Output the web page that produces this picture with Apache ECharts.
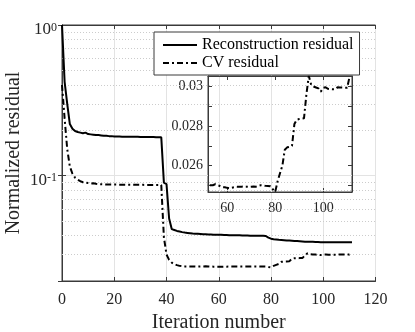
<!DOCTYPE html>
<html><head><meta charset="utf-8">
<script src="https://cdn.jsdelivr.net/npm/echarts@6/dist/echarts.min.js"></script>
<style>html,body{margin:0;padding:0;background:#fff}#c{width:415px;height:332px}</style>
</head><body><div id="c"></div>
<script>
const iterations = [0,1,2,3,4,5,6,7,8,9,10,11,12,13,14,15,16,17,18,19,20,21,22,23,24,25,26,27,28,29,30,31,32,33,34,35,36,37,38,39,40,41,42,43,44,45,46,47,48,49,50,51,52,53,54,55,56,57,58,59,60,61,62,63,64,65,66,67,68,69,70,71,72,73,74,75,76,77,78,79,80,81,82,83,84,85,86,87,88,89,90,91,92,93,94,95,96,97,98,99,100,101,102,103,104,105,106,107,108,109,110,111];

const reconResidual = [1.0,0.42,0.30,0.22,0.205,0.198,0.195,0.193,0.191,0.193,
0.189,0.188,0.187,0.186,0.186,0.185,0.184,0.184,0.183,0.183,
0.182,0.182,0.182,0.1815,0.1815,0.181,0.181,0.181,0.181,0.181,
0.1805,0.1805,0.1805,0.1805,0.1805,0.1805,0.180,0.180,0.180,0.090,
0.088,0.052,0.0442,0.0436,0.0430,0.0426,0.0422,0.0419,0.0417,0.0415,
0.0413,0.0412,0.0411,0.0410,0.0409,0.0408,0.0407,0.0407,0.0406,0.0406,
0.0405,0.0405,0.0404,0.0404,0.0403,0.0403,0.0402,0.0402,0.0402,0.0401,
0.0401,0.0401,0.0400,0.0400,0.0400,0.0399,0.0399,0.0399,0.0398,0.0388,
0.0382,0.0379,0.0377,0.0375,0.0374,0.0373,0.0372,0.0371,0.0370,0.0369,
0.0368,0.0367,0.0366,0.0365,0.0365,0.0364,0.0364,0.0363,0.0363,0.0362,
0.0362,0.0362,0.0362,0.0361,0.0361,0.0361,0.0361,0.0361,0.0361,0.0361,
0.0361,0.0361];

const cvResidual = [0.40,0.24,0.15,0.115,0.103,0.097,0.094,0.092,0.0905,0.0900,
0.0893,0.0888,0.0892,0.0884,0.0880,0.0878,0.0876,0.0875,0.0874,0.0873,
0.0873,0.0872,0.0872,0.0871,0.0871,0.0870,0.0870,0.0870,0.0869,0.0869,
0.0869,0.0869,0.0868,0.0868,0.0868,0.0868,0.0868,0.0868,0.0868,0.039,
0.030,0.0276,0.0265,0.0259,0.0255,0.0252,0.0251,0.0250,0.0250,0.0250,
0.0250,0.0250,0.02496,0.0250,0.0250,0.02505,0.0250,0.02496,0.0249,0.0249,
0.02487,0.02485,0.02488,0.0249,0.02493,0.02492,0.02493,0.02494,0.02493,0.02492,
0.02493,0.02494,0.02493,0.02497,0.0250,0.02499,0.02497,0.02496,0.02495,0.0248,
0.02466,0.0252,0.02561,0.0260,0.0268,0.02692,0.02695,0.0270,0.0281,0.02832,
0.02835,0.02837,0.02839,0.0296,0.03053,0.03008,0.0300,0.02995,0.0299,0.02974,
0.02993,0.02996,0.02988,0.02987,0.02986,0.02986,0.02996,0.02995,0.02995,0.02994,
0.02994,0.0305];

const seriesNames = ['Reconstruction residual', 'CV residual'];
const minorGridValues = [0.03,0.04,0.05,0.06,0.07,0.08,0.09,0.2,0.3,0.4,0.5,0.6,0.7,0.8,0.9];
const insetXTicks = [60,80,100];
const insetYTicks = [0.025,0.026,0.027,0.028,0.029,0.03];
const insetYLabels = [0.026,0.028,0.03];

const FONT = '"Liberation Serif", "Times New Roman", serif';
const INK = '#262626';
const AXIS = '#3a3a3a';

function pairs(vals){ return iterations.map((x,i)=>[x, vals[i]]); }

const chart = echarts.init(document.getElementById('c'), null, {renderer:'canvas'});

const tickStyle = {show:true, inside:true, length:4, lineStyle:{color:AXIS, width:1}};
const lineAx = {show:true, lineStyle:{color:AXIS, width:1}};

const option = {
  animation:false,
  backgroundColor:'#fff',
  textStyle:{fontFamily:FONT, color:INK},
  grid:[
    {left:62, top:25, width:313.5, height:256, show:true, borderColor:AXIS, borderWidth:1, backgroundColor:'transparent', containLabel:false, outerBoundsMode:'none'},
    {left:208, top:76, width:144, height:116, show:true, borderColor:AXIS, borderWidth:1, backgroundColor:'transparent', containLabel:false, outerBoundsMode:'none'}
  ],
  legend:{
    data:seriesNames, orient:'vertical', left:154, top:32,
    padding:[5,6,4,8], itemGap:2, itemWidth:34, itemHeight:14,
    borderColor:AXIS, borderWidth:1, backgroundColor:'#fff', z:20,
    itemStyle:{opacity:0, borderWidth:0},
    textStyle:{fontFamily:FONT, fontSize:16, color:'#000', lineHeight:16},
    inactiveColor:'#000'
  },
  xAxis:[
    {gridIndex:0, type:'value', min:0, max:120, interval:20, position:'bottom',
     axisLine:lineAx, axisTick:tickStyle,
     axisLabel:{fontFamily:FONT, fontSize:16, color:INK, margin:11},
     splitLine:{show:true, lineStyle:{color:'#e3e3e3', width:1}},
     name:'Iteration number', nameLocation:'middle', nameGap:32, nameMoveOverlap:false,
     nameTextStyle:{fontFamily:FONT, fontSize:20, color:INK}},
    {gridIndex:0, type:'value', min:0, max:120, interval:20, position:'top',
     axisLine:lineAx, axisTick:tickStyle, axisLabel:{show:false}, splitLine:{show:false}},
    {gridIndex:1, type:'value', min:52, max:112, position:'bottom',
     axisLine:lineAx, axisTick:Object.assign({customValues:insetXTicks}, tickStyle),
     axisLabel:{fontFamily:FONT, fontSize:14, color:INK, margin:9, customValues:insetXTicks},
     splitLine:{show:false}},
    {gridIndex:1, type:'value', min:52, max:112, position:'top',
     axisLine:lineAx, axisTick:Object.assign({customValues:insetXTicks}, tickStyle),
     axisLabel:{show:false}, splitLine:{show:false}}
  ],
  yAxis:[
    {gridIndex:0, type:'log', logBase:10, min:0.02, max:1, position:'left',
     axisLine:lineAx, axisTick:tickStyle,
     splitLine:{show:true, lineStyle:{color:'#e3e3e3', width:1}},
     axisLabel:{margin:5, padding:[10,0,0,0],
       formatter:function(v){
         const l = Math.log10(v); const e = Math.round(l);
         if (Math.abs(l-e) > 1e-6) return '';
         return '{b|10}{s|' + e + '}';
       },
       rich:{
         b:{fontFamily:FONT, fontSize:17, color:INK, verticalAlign:'bottom', lineHeight:17},
         s:{fontFamily:FONT, fontSize:12, color:INK, verticalAlign:'top', lineHeight:12, padding:[0,0,9,0]}
       }},
     name:'Normalized residual', nameLocation:'middle', nameGap:38, nameRotate:90, nameMoveOverlap:false,
     nameTextStyle:{fontFamily:FONT, fontSize:20, color:INK}},
    {gridIndex:0, type:'log', logBase:10, min:0.02, max:1, position:'right',
     axisLine:lineAx, axisTick:tickStyle, axisLabel:{show:false}, splitLine:{show:false}},
    {gridIndex:1, type:'value', min:0.02466, max:0.03053, position:'left', scale:true,
     axisLine:lineAx, axisTick:Object.assign({customValues:insetYTicks}, tickStyle),
     axisLabel:{fontFamily:FONT, fontSize:14, color:INK, margin:5, customValues:insetYLabels,
       formatter:function(v){ return String(v); }},
     splitLine:{show:false}},
    {gridIndex:1, type:'value', min:0.02466, max:0.03053, position:'right', scale:true,
     axisLine:lineAx, axisTick:Object.assign({customValues:insetYTicks}, tickStyle),
     axisLabel:{show:false}, splitLine:{show:false}}
  ],
  series:[
    {name:seriesNames[0], type:'line', xAxisIndex:0, yAxisIndex:0, data:pairs(reconResidual),
     symbol:'none', z:3, lineStyle:{color:'#000', width:2, type:'solid'}, itemStyle:{color:'#000'},
     markLine:{silent:true, z:1, symbol:['none','none'], label:{show:false},
       lineStyle:{color:'#cccccc', width:1, type:[1,2]},
       emphasis:{disabled:true},
       data:minorGridValues.map(v=>({yAxis:v}))}},
    {name:seriesNames[1], type:'line', xAxisIndex:0, yAxisIndex:0, data:pairs(cvResidual),
     symbol:'none', z:3, lineStyle:{color:'#000', width:2, type:[6,3,2,3]}, itemStyle:{color:'#000'}},
    {name:'CV residual (zoom)', type:'line', xAxisIndex:2, yAxisIndex:2, data:pairs(cvResidual),
     symbol:'none', z:4, clip:true, lineStyle:{color:'#000', width:2, type:[6,3,2,3]}, itemStyle:{color:'#000'}}
  ]
};
chart.setOption(option);
</script></body></html>
